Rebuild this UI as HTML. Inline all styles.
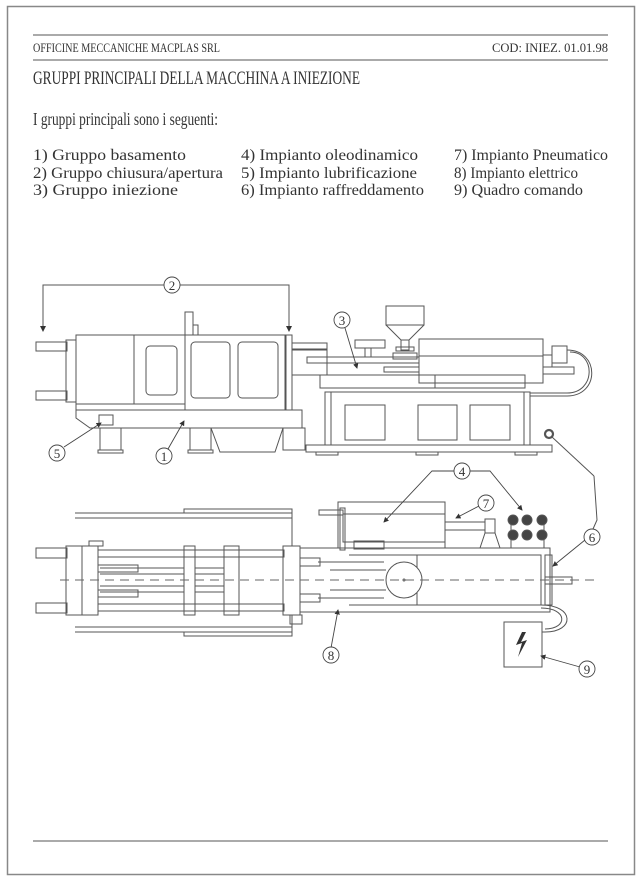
<!DOCTYPE html>
<html><head><meta charset="utf-8"><style>
html,body{margin:0;padding:0;background:#fff}
svg{display:block}
text{font-family:"Liberation Serif",serif;fill:#333}
</style></head><body>
<svg width="642" height="879" viewBox="0 0 642 879" xmlns="http://www.w3.org/2000/svg">
<rect x="0" y="0" width="642" height="879" fill="#fff"/>
<rect x="7.5" y="6.5" width="627" height="868" fill="none" stroke="#888" stroke-width="1.5"/>
<g stroke="#555" stroke-width="1"><line x1="33" y1="35" x2="608" y2="35"/><line x1="33" y1="60" x2="608" y2="60"/><line x1="33" y1="841" x2="608" y2="841"/></g>
<text x="33" y="52" font-size="12.5" textLength="187" lengthAdjust="spacingAndGlyphs">OFFICINE MECCANICHE MACPLAS SRL</text>
<text x="608" y="52" font-size="12.5" text-anchor="end" textLength="116" lengthAdjust="spacingAndGlyphs">COD: INIEZ. 01.01.98</text>
<text x="33" y="84" font-size="18.5" textLength="327" lengthAdjust="spacingAndGlyphs">GRUPPI PRINCIPALI DELLA MACCHINA A INIEZIONE</text>
<text x="33" y="125" font-size="18" textLength="185" lengthAdjust="spacingAndGlyphs">I gruppi principali sono i seguenti:</text>
<g font-size="16">
<text x="33" y="160" textLength="153" lengthAdjust="spacingAndGlyphs">1) Gruppo basamento</text>
<text x="33" y="178" textLength="190" lengthAdjust="spacingAndGlyphs">2) Gruppo chiusura/apertura</text>
<text x="33" y="195" textLength="145" lengthAdjust="spacingAndGlyphs">3) Gruppo iniezione</text>
<text x="241" y="160" textLength="177" lengthAdjust="spacingAndGlyphs">4) Impianto oleodinamico</text>
<text x="241" y="178" textLength="176" lengthAdjust="spacingAndGlyphs">5) Impianto lubrificazione</text>
<text x="241" y="195" textLength="183" lengthAdjust="spacingAndGlyphs">6) Impianto raffreddamento</text>
<text x="454" y="160" textLength="154" lengthAdjust="spacingAndGlyphs">7) Impianto Pneumatico</text>
<text x="454" y="178" textLength="124" lengthAdjust="spacingAndGlyphs">8) Impianto elettrico</text>
<text x="454" y="195" textLength="129" lengthAdjust="spacingAndGlyphs">9) Quadro comando</text>
</g>
<defs><marker id="a" markerWidth="6" markerHeight="6" refX="5" refY="3" orient="auto"><path d="M0,0 L6,3 L0,6 z" fill="#333"/></marker></defs>
<g fill="none" stroke="#555" stroke-width="1">
<polyline points="165,285 43,285 43,331" marker-end="url(#a)"/>
<polyline points="179,285 289,285 289,331" marker-end="url(#a)"/>
<rect x="36" y="342" width="31" height="9"/><rect x="36" y="391" width="31" height="9"/>
<rect x="66" y="340" width="10" height="62"/>
<rect x="76" y="335" width="210" height="75"/>
<line x1="134" y1="335" x2="134" y2="404"/><line x1="76" y1="404" x2="185" y2="404"/>
<line x1="185" y1="335" x2="185" y2="410"/>
<rect x="146" y="346" width="31" height="49" rx="4"/>
<rect x="191" y="342" width="39" height="56" rx="4"/>
<rect x="238" y="342" width="40" height="56" rx="4"/>
<rect x="185" y="312" width="8" height="23"/><rect x="193" y="325" width="5" height="10"/>
<rect x="285" y="335" width="7" height="75"/>
<path d="M76,410 H302 V428 H90 L76,418 Z"/>
<rect x="100" y="428" width="21" height="22"/><rect x="98" y="450" width="25" height="3"/>
<rect x="190" y="428" width="21" height="22"/><rect x="188" y="450" width="25" height="3"/>
<rect x="283" y="428" width="22" height="22"/>
<path d="M211,428 L220,452 H275 L283,428"/>
<rect x="99" y="415" width="14" height="10"/>
<rect x="292" y="343" width="35" height="6"/><rect x="292" y="350" width="35" height="25"/>
<rect x="307" y="357" width="112" height="6"/>
<rect x="355" y="340" width="30" height="8"/><line x1="365" y1="348" x2="365" y2="357"/><line x1="371" y1="348" x2="371" y2="357"/>
<rect x="386" y="306" width="38" height="19"/>
<path d="M386,325 L401,340 H409 L424,325"/>
<rect x="401" y="340" width="8" height="10"/><rect x="396" y="347" width="18" height="4"/>
<rect x="393" y="353" width="24" height="6"/>
<rect x="384" y="367" width="35" height="5"/>
<rect x="419" y="339" width="124" height="44"/><line x1="419" y1="356" x2="543" y2="356"/>
<rect x="543" y="355" width="9" height="12"/><rect x="552" y="346" width="15" height="17"/>
<rect x="543" y="367" width="31" height="7"/>
<rect x="320" y="375" width="115" height="13"/><rect x="435" y="375" width="90" height="13"/>
<rect x="325" y="392" width="205" height="53"/>
<line x1="331" y1="392" x2="331" y2="445"/><line x1="524" y1="392" x2="524" y2="445"/>
<rect x="345" y="405" width="40" height="35"/><rect x="418" y="405" width="39" height="35"/><rect x="470" y="405" width="40" height="35"/>
<rect x="306" y="445" width="246" height="7"/>
<rect x="316" y="452" width="22" height="3"/><rect x="416" y="452" width="22" height="3"/><rect x="515" y="452" width="22" height="3"/>
<path d="M567,350 C600,350 600,396 567,396 H530"/>
<path d="M570,352 C596,352 596,393 567,393 H530"/>
<circle cx="549" cy="434" r="4" stroke-width="2.2"/>
<line x1="552" y1="437" x2="594" y2="476"/><polyline points="594,476 597,520 593,529"/>
<polyline points="75,513 292,513 292,518 75,518 z"/><rect x="184" y="509" width="108" height="4"/>
<polyline points="75,627 292,627 292,632 75,632 z"/><rect x="184" y="632" width="108" height="4"/>
<line x1="292" y1="509" x2="292" y2="546"/><line x1="292" y1="615" x2="292" y2="636"/>
<rect x="36" y="548" width="31" height="10"/><rect x="36" y="603" width="31" height="10"/>
<rect x="66" y="546" width="32" height="69"/><line x1="82" y1="546" x2="82" y2="615"/>
<rect x="89" y="541" width="14" height="5"/>
<rect x="98" y="550" width="186" height="7"/><rect x="98" y="604" width="186" height="7"/>
<rect x="98" y="565" width="40" height="7"/><rect x="98" y="590" width="40" height="7"/>
<line x1="100" y1="574" x2="184" y2="574"/><line x1="100" y1="586" x2="184" y2="586"/>
<line x1="100" y1="568" x2="184" y2="568"/><line x1="100" y1="592" x2="184" y2="592"/>
<line x1="195" y1="568" x2="224" y2="568"/><line x1="195" y1="592" x2="224" y2="592"/>
<line x1="195" y1="574" x2="224" y2="574"/><line x1="195" y1="586" x2="224" y2="586"/>
<rect x="184" y="546" width="11" height="69"/>
<rect x="224" y="546" width="15" height="69"/>
<rect x="283" y="546" width="17" height="69"/>
<rect x="290" y="615" width="12" height="9"/>
<rect x="300" y="558" width="20" height="8"/><rect x="300" y="594" width="20" height="8"/>
<rect x="300" y="548" width="250" height="64"/>
<rect x="417" y="555" width="124" height="50"/>
<line x1="349" y1="555" x2="417" y2="555"/><line x1="349" y1="605" x2="417" y2="605"/>
<line x1="318" y1="562" x2="384" y2="562"/><line x1="318" y1="598" x2="384" y2="598"/>
<line x1="330" y1="570" x2="386" y2="570"/><line x1="330" y1="590" x2="386" y2="590"/>
<circle cx="404" cy="580" r="18" fill="#fff"/><circle cx="404" cy="580" r="1"/>
<rect x="545" y="577" width="27" height="7"/><rect x="545" y="555" width="7" height="50"/>
<rect x="338" y="502" width="107" height="46"/><rect x="343" y="514" width="102" height="28"/>
<rect x="319" y="510" width="24" height="5"/><rect x="340" y="508" width="5" height="42"/>
<rect x="354" y="541" width="30" height="8"/>
<rect x="445" y="522" width="40" height="8"/><rect x="485" y="519" width="10" height="14"/>
<path d="M480,548 L485,533 H495 L500,548"/>
<path d="M541,605 C575,605 575,632 545,632 H542"/><path d="M541,608 C568,608 568,629 545,629"/>
<rect x="504" y="622" width="38" height="45"/>
<polyline points="511,516 511,548"/><polyline points="544,516 544,548"/>
</g>
<line x1="60" y1="580" x2="600" y2="580" stroke="#666" stroke-dasharray="9,6"/>
<g stroke="#555" fill="#444"><circle cx="513" cy="520" r="5"/><circle cx="527" cy="520" r="5"/><circle cx="542" cy="520" r="5"/><circle cx="513" cy="535" r="5"/><circle cx="527" cy="535" r="5"/><circle cx="542" cy="535" r="5"/></g>
<path d="M522,632 L516,645 L522,643 L518,657 L527,640 L521,642 L526,632 Z" fill="#333"/>
<g stroke="#444" stroke-width="0.9" fill="none" marker-end="url(#a)">
<line x1="64" y1="447" x2="101" y2="423"/>
<line x1="168" y1="449" x2="184" y2="421"/>
<line x1="345" y1="328" x2="357" y2="368"/>
<polyline points="455,471 432,471 384,522"/>
<polyline points="469,471 490,471 522,510"/>
<line x1="479" y1="506" x2="456" y2="518"/>
<line x1="585" y1="540" x2="553" y2="566"/>
<line x1="331" y1="648" x2="338" y2="610"/>
<line x1="580" y1="667" x2="541" y2="656"/>
</g>
<g fill="#fff" stroke="#444" stroke-width="0.9">
<circle cx="172" cy="285" r="8"/><circle cx="57" cy="453" r="8"/><circle cx="164" cy="456" r="8"/><circle cx="342" cy="320" r="8"/>
<circle cx="462" cy="471" r="8"/><circle cx="486" cy="503" r="8"/><circle cx="592" cy="537" r="8"/><circle cx="331" cy="655" r="8"/><circle cx="587" cy="669" r="8"/>
</g>
<g font-size="13" text-anchor="middle">
<text x="172" y="290">2</text><text x="57" y="458">5</text><text x="164" y="461">1</text><text x="342" y="325">3</text>
<text x="462" y="476">4</text><text x="486" y="508">7</text><text x="592" y="542">6</text><text x="331" y="660">8</text><text x="587" y="674">9</text>
</g>
</svg>
</body></html>
